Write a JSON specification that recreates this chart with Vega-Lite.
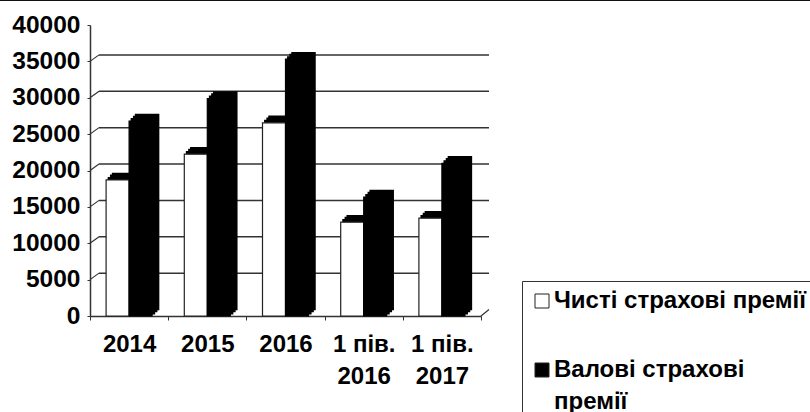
{"$schema":"https://vega.github.io/schema/vega-lite/v6.json","width":391,"height":291,"autosize":"none","padding":{"left":90,"top":25,"right":329,"bottom":96},"background":"white",
"config":{"view":{"stroke":null},"style":{"guide-label":{"lineHeight":32}},"axisY":{"grid":false,"tickCount":9,"labelOverlap":false,"labelFont":"Liberation Sans","labelFontWeight":"bold","labelFontSize":24.5,"labelColor":"black","labelPadding":7,"tickSize":3,"tickColor":"#333","domainColor":"#333","domainWidth":1.5,"format":"d"}},
"datasets":{"bars":[
{"period":"2014","series":"Чисті страхові премії","value":18700},{"period":"2014","series":"Валові страхові премії","value":26800},
{"period":"2015","series":"Чисті страхові премії","value":22250},{"period":"2015","series":"Валові страхові премії","value":29900},
{"period":"2016","series":"Чисті страхові премії","value":26550},{"period":"2016","series":"Валові страхові премії","value":35300},
{"period":"1 пів. 2016","series":"Чисті страхові премії","value":12900},{"period":"1 пів. 2016","series":"Валові страхові премії","value":16350},
{"period":"1 пів. 2017","series":"Чисті страхові премії","value":13450},{"period":"1 пів. 2017","series":"Валові страхові премії","value":21000}],
"walls":[{"level":5000},{"level":10000},{"level":15000},{"level":20000},{"level":25000},{"level":30000},{"level":35000}]},
"resolve":{"scale":{"x":"independent","xOffset":"independent"}},
"encoding":{},
"layer":[
{"data":{"name":"walls"},"mark":{"type":"rule","stroke":"#333","strokeWidth":1.5,"yOffset":-6.5,"y2Offset":-6.5},"encoding":{"x":{"datum":9,"type":"quantitative","scale":{"domain":[0,391],"nice":false,"zero":false},"axis":null},"x2":{"datum":399},"y":{"field":"level","type":"quantitative","title":null,"scale":{"domain":[0,40000]}},"y2":{"field":"level"}}},
{"data":{"name":"walls"},"mark":{"type":"rule","stroke":"#333","strokeWidth":1.2,"y2Offset":-6.5},"encoding":{"x":{"datum":0,"type":"quantitative","scale":{"domain":[0,391],"nice":false,"zero":false},"axis":null},"x2":{"datum":9},"y":{"field":"level","type":"quantitative","title":null},"y2":{"field":"level"}}},
{"data":{"values":[{"level":0}]},"mark":{"type":"rule","stroke":"#333","strokeWidth":1.2,"y2Offset":-6.5},"encoding":{"x":{"datum":391,"type":"quantitative","scale":{"domain":[0,391],"nice":false,"zero":false},"axis":null},"x2":{"datum":399},"y":{"field":"level","type":"quantitative","title":null},"y2":{"field":"level"}}},
{"data":{"values":[{"level":43400}]},"mark":{"type":"rule","stroke":"#111","strokeWidth":1.5},"encoding":{"x":{"datum":-90,"type":"quantitative","scale":{"domain":[0,391],"nice":false,"zero":false},"axis":null},"x2":{"datum":720},"y":{"field":"level","type":"quantitative","title":null}}},
{"data":{"name":"bars"},"transform":[{"filter":"datum.series=='Чисті страхові премії'"}],"mark":{"type":"bar","fill":"black","stroke":"black","strokeWidth":1.5,"yOffset":-2.3},"encoding":{"x":{"field":"period","type":"nominal","sort":["2014","2015","2016","1 пів. 2016","1 пів. 2017"],"scale":{"paddingInner":0,"paddingOuter":0},"axis":null},"xOffset":{"field":"series","sort":["Чисті страхові премії","Валові страхові премії"],"scale":{"paddingInner":0,"paddingOuter":0,"domain":["Чисті страхові премії","Валові страхові премії"],"range":[18.4,64.4]}},"y":{"field":"value","type":"quantitative","title":null}}},
{"data":{"name":"bars"},"transform":[{"filter":"datum.series=='Чисті страхові премії'"}],"mark":{"type":"bar","fill":"black","stroke":"black","strokeWidth":1.5,"yOffset":-4.6},"encoding":{"x":{"field":"period","type":"nominal","sort":["2014","2015","2016","1 пів. 2016","1 пів. 2017"],"scale":{"paddingInner":0,"paddingOuter":0},"axis":null},"xOffset":{"field":"series","sort":["Чисті страхові премії","Валові страхові премії"],"scale":{"paddingInner":0,"paddingOuter":0,"domain":["Чисті страхові премії","Валові страхові премії"],"range":[20.7,66.7]}},"y":{"field":"value","type":"quantitative","title":null}}},
{"data":{"name":"bars"},"transform":[{"filter":"datum.series=='Чисті страхові премії'"}],"mark":{"type":"bar","fill":"black","stroke":"black","strokeWidth":1.5,"yOffset":-6.5},"encoding":{"x":{"field":"period","type":"nominal","sort":["2014","2015","2016","1 пів. 2016","1 пів. 2017"],"scale":{"paddingInner":0,"paddingOuter":0},"axis":null},"xOffset":{"field":"series","sort":["Чисті страхові премії","Валові страхові премії"],"scale":{"paddingInner":0,"paddingOuter":0,"domain":["Чисті страхові премії","Валові страхові премії"],"range":[22.6,68.6]}},"y":{"field":"value","type":"quantitative","title":null}}},
{"data":{"name":"bars"},"transform":[{"filter":"datum.series=='Валові страхові премії'"}],"mark":{"type":"bar","fill":"black","stroke":"black","strokeWidth":1.5,"yOffset":-2.3},"encoding":{"x":{"field":"period","type":"nominal","sort":["2014","2015","2016","1 пів. 2016","1 пів. 2017"],"scale":{"paddingInner":0,"paddingOuter":0},"axis":null},"xOffset":{"field":"series","sort":["Чисті страхові премії","Валові страхові премії"],"scale":{"paddingInner":0,"paddingOuter":0,"domain":["Чисті страхові премії","Валові страхові премії"],"range":[18.4,64.4]}},"y":{"field":"value","type":"quantitative","title":null}}},
{"data":{"name":"bars"},"transform":[{"filter":"datum.series=='Валові страхові премії'"}],"mark":{"type":"bar","fill":"black","stroke":"black","strokeWidth":1.5,"yOffset":-4.6},"encoding":{"x":{"field":"period","type":"nominal","sort":["2014","2015","2016","1 пів. 2016","1 пів. 2017"],"scale":{"paddingInner":0,"paddingOuter":0},"axis":null},"xOffset":{"field":"series","sort":["Чисті страхові премії","Валові страхові премії"],"scale":{"paddingInner":0,"paddingOuter":0,"domain":["Чисті страхові премії","Валові страхові премії"],"range":[20.7,66.7]}},"y":{"field":"value","type":"quantitative","title":null}}},
{"data":{"name":"bars"},"transform":[{"filter":"datum.series=='Валові страхові премії'"}],"mark":{"type":"bar","fill":"black","stroke":"black","strokeWidth":1.5,"yOffset":-6.5},"encoding":{"x":{"field":"period","type":"nominal","sort":["2014","2015","2016","1 пів. 2016","1 пів. 2017"],"scale":{"paddingInner":0,"paddingOuter":0},"axis":null},"xOffset":{"field":"series","sort":["Чисті страхові премії","Валові страхові премії"],"scale":{"paddingInner":0,"paddingOuter":0,"domain":["Чисті страхові премії","Валові страхові премії"],"range":[22.6,68.6]}},"y":{"field":"value","type":"quantitative","title":null}}},
{"data":{"name":"bars"},"transform":[{"filter":"datum.series=='Чисті страхові премії'"}],"mark":{"type":"bar","stroke":"#222","strokeWidth":1.2},"encoding":{"x":{"field":"period","type":"nominal","sort":["2014","2015","2016","1 пів. 2016","1 пів. 2017"],"scale":{"paddingInner":0,"paddingOuter":0},"axis":null},"xOffset":{"field":"series","sort":["Чисті страхові премії","Валові страхові премії"],"scale":{"paddingInner":0,"paddingOuter":0,"domain":["Чисті страхові премії","Валові страхові премії"],"range":[16.1,62.1]}},"y":{"field":"value","type":"quantitative","title":null},"fill":{"value":"white"}}},
{"data":{"name":"bars"},"transform":[{"filter":"datum.series=='Валові страхові премії'"}],"mark":{"type":"bar","stroke":"black","strokeWidth":1.2},"encoding":{
"x":{"field":"period","type":"nominal","sort":["2014","2015","2016","1 пів. 2016","1 пів. 2017"],"scale":{"paddingInner":0,"paddingOuter":0},"title":null,
"axis":{"tickBand":"extent","labelAngle":0,"labelFont":"Liberation Sans","labelFontWeight":"bold","labelFontSize":24,"labelColor":"black","labelPadding":12,"labelLineHeight":32,"labelLimit":200,"tickSize":4,"tickColor":"#333","domainColor":"#333","domainWidth":1.5,"labelExpr":"split(replace(datum.label,' 20','|20'),'|')","labelBaseline":"top"}},
"xOffset":{"field":"series","sort":["Чисті страхові премії","Валові страхові премії"],"scale":{"paddingInner":0,"paddingOuter":0,"domain":["Чисті страхові премії","Валові страхові премії"],"range":[16.1,62.1]}},
"y":{"field":"value","type":"quantitative","title":null},
"fill":{"field":"series","type":"nominal","scale":{"domain":["Чисті страхові премії","Валові страхові премії"],"range":["white","black"]},
"legend":{"title":null,"orient":"none","legendX":432,"legendY":256,"padding":8,"strokeColor":"#333","fillColor":"white","symbolType":"square","symbolSize":196,"symbolStrokeColor":"#222","symbolStrokeWidth":1,"symbolOpacity":1,"labelFont":"Liberation Sans","labelFontWeight":"bold","labelFontSize":24,"labelColor":"black","labelLimit":300,"labelOffset":0,"rowPadding":45,"labelExpr":"split(replace(datum.label,'Валові страхові ','Валові страхові|'),'|')","encoding":{"labels":{"update":{"dy":{"value":4}}}}}}}}
]}
